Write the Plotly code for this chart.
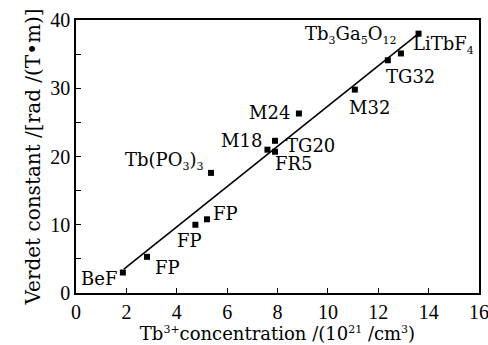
import plotly.graph_objects as go

# data
conc = [1.86, 2.82, 4.74, 5.2, 5.36, 7.6, 7.9, 7.9, 8.85, 11.07, 12.38, 12.9, 13.6]
verdet = [3.0, 5.3, 10.0, 10.8, 17.6, 21.0, 22.3, 20.7, 26.3, 29.8, 34.1, 35.1, 38.0]


def sb(t):
    return '<sub><span style="font-size:11px">' + t + '</span></sub>'


def sp(t):
    return '<sup><span style="font-size:11px">' + t + '</span></sup>'


labels = ["BeF", "FP", "FP", "FP", "Tb(PO" + sb("3") + ")" + sb("3"), "M18", "TG20", "FR5",
          "M24", "M32", "TG32", "LiTbF" + sb("4"), "Tb" + sb("3") + "Ga" + sb("5") + "O" + sb("12")]
fit_x = [1.9, 13.6]
fit_y = [3.5, 38.0]

# label offsets (pixels) relative to each point
dx = [-24, 20, -6, 19, -47, -26, 36, 19, -29, 15, 23, 43, -68]
dy = [-6, -11, -16, 6, 12, 9, -5, -12, 1, -18, -16, 8, -1]

FONT = "DejaVu Serif"
TICKFONT = "Liberation Serif"

fig = go.Figure()
fig.add_trace(go.Scatter(x=fit_x, y=fit_y, mode="lines",
                         line=dict(color="black", width=1.6), showlegend=False))
fig.add_trace(go.Scatter(x=conc, y=verdet, mode="markers",
                         marker=dict(symbol="square", size=6, color="black"),
                         showlegend=False))

for x, y, t, sx, sy in zip(conc, verdet, labels, dx, dy):
    fig.add_annotation(x=x, y=y, text=t, showarrow=False, xref="x", yref="y",
                       xshift=sx, yshift=sy, xanchor="center", yanchor="middle",
                       font=dict(family=FONT, size=18, color="black"))

axis_common = dict(showgrid=False, zeroline=False, showline=True, linecolor="black",
                   linewidth=1.5, mirror=True, ticks="inside", ticklen=5,
                   tickcolor="black", tickwidth=1, automargin=False,
                   tickfont=dict(family=TICKFONT, size=20, color="black"))

fig.update_xaxes(range=[0, 16], dtick=2, tick0=0, ticklabeloverflow="allow",
                 title=dict(text="Tb" + sp("3+") + "concentration /(10" + sp("21") + " /cm" + sp("3") + ")",
                            font=dict(family=FONT, size=18, color="black"), standoff=6),
                 **axis_common)
fig.update_yaxes(range=[0, 40], dtick=10, tick0=0,
                 minor=dict(dtick=5, ticks="inside", ticklen=5, tickcolor="black"),
                 title=dict(text="Verdet constant /[rad /(T•m)]",
                            font=dict(family=FONT, size=20, color="black"), standoff=4),
                 **axis_common)

fig.update_layout(width=488, height=345, margin=dict(l=76, r=9, t=20, b=52),
                  plot_bgcolor="white", paper_bgcolor="white")

fig.write_html("out.html")
